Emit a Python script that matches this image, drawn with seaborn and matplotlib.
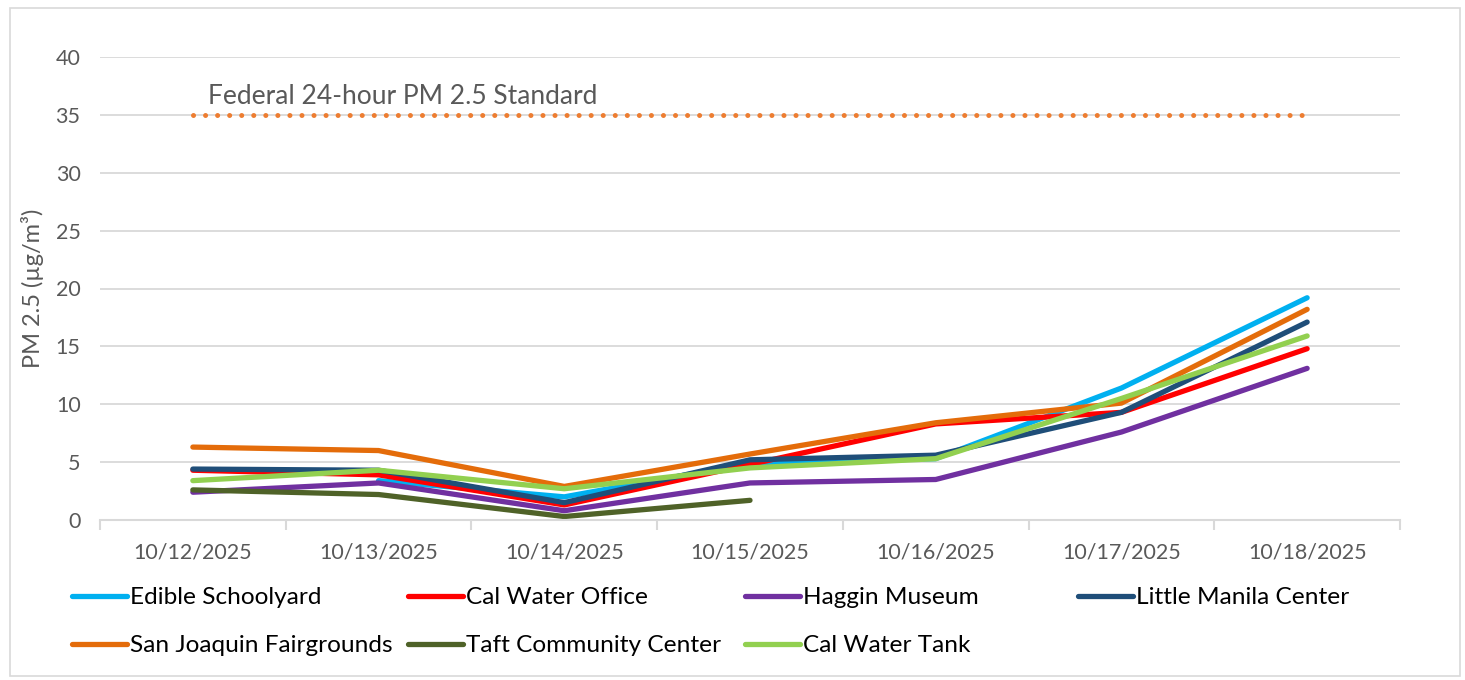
import matplotlib
matplotlib.use('Agg')
import numpy as np
import pandas as pd
import seaborn as sns
from matplotlib import pyplot as plt
from matplotlib.patches import Rectangle

dates = ["10/12/2025", "10/13/2025", "10/14/2025", "10/15/2025",
         "10/16/2025", "10/17/2025", "10/18/2025"]

edible_schoolyard = [np.nan, 3.4, 2.0, 4.9, 5.3, 11.4, 19.2]
cal_water_office = [4.3, 3.9, 1.3, 4.8, 8.3, 9.3, 14.8]
haggin_museum = [2.4, 3.2, 0.8, 3.2, 3.5, 7.6, 13.1]
little_manila = [4.4, 4.3, 1.5, 5.2, 5.6, 9.3, 17.1]
sj_fairgrounds = [6.3, 6.0, 2.9, 5.7, 8.4, 10.1, 18.2]
taft_center = [2.6, 2.2, 0.3, 1.7, np.nan, np.nan, np.nan]
cal_water_tank = [3.4, 4.3, 2.7, 4.5, 5.3, 10.5, 15.9]

standard = [35] * 7

series = {
    "Edible Schoolyard": edible_schoolyard,
    "Cal Water Office": cal_water_office,
    "Haggin Museum": haggin_museum,
    "Little Manila Center": little_manila,
    "San Joaquin Fairgrounds": sj_fairgrounds,
    "Taft Community Center": taft_center,
    "Cal Water Tank": cal_water_tank,
}
colors = ["#00B0F0", "#FF0000", "#7030A0", "#1F4E79",
          "#E46C0A", "#4F6228", "#92D050"]

df = pd.DataFrame(
    [(d, name, v) for name, vals in series.items() for d, v in zip(dates, vals)],
    columns=["Date", "Site", "PM25"],
)

plt.rcParams['font.family'] = ['Lato', 'DejaVu Sans']
grey = "#595959"

fig = plt.figure(figsize=(14.65, 6.8), dpi=100)
ax = fig.add_axes([100 / 1465, 1 - 520 / 680, 1300 / 1465, 463 / 680])

# federal standard line
std_df = pd.DataFrame({"Date": dates, "PM25": standard})
sns.lineplot(data=std_df, x="Date", y="PM25", ax=ax, color="#ED7D31",
             linewidth=3.6, linestyle=(0, (0.01, 2.4)),
             dash_capstyle="round", legend=False)

sns.lineplot(data=df, x="Date", y="PM25", hue="Site",
             hue_order=list(series.keys()), palette=colors,
             linewidth=3.8, ax=ax, solid_capstyle="round", legend=True)

ax.text(0.08, 36.6, "Federal 24-hour PM 2.5 Standard", color=grey,
        fontsize=19, va="center", ha="left")

ax.set_xlim(-0.5, 6.5)
ax.set_ylim(0, 40)
ax.set_yticks(range(0, 41, 5))
ax.grid(axis="y", color="#D9D9D9", linewidth=1.3)
ax.set_axisbelow(True)
for s in ["left", "right", "top"]:
    ax.spines[s].set_visible(False)
ax.spines["bottom"].set_color("#D9D9D9")
ax.spines["bottom"].set_linewidth(1.5)

ax.set_xticks(np.arange(-0.5, 7, 1), minor=True)
ax.tick_params(axis="x", which="major", length=0, pad=16, labelsize=15.5,
               labelcolor=grey)
ax.tick_params(axis="x", which="minor", length=7, width=1.5, color="#D9D9D9")
ax.tick_params(axis="y", length=0, pad=14, labelsize=15.5, labelcolor=grey)

ax.set_xlabel("")
ax.set_ylabel("PM 2.5 (µg/m³)", fontsize=17, color=grey)
ax.yaxis.set_label_coords(-0.043, 0.5)

# legend: four columns placed separately
handles, labels = ax.get_legend_handles_labels()
ax.get_legend().remove()
col_x = [72, 408, 745, 1078]
for k, x0 in enumerate(col_x):
    idx = [i for i in (k, k + 4) if i < len(handles)]
    leg = fig.legend([handles[i] for i in idx], [labels[i] for i in idx],
                     loc="upper left", bbox_to_anchor=(x0 / 1465, 1 - 587 / 680),
                     frameon=False, fontsize=17.6, handlelength=2.25,
                     handletextpad=0.12, labelspacing=1.1, borderpad=0,
                     borderaxespad=0)
    for line in leg.get_lines():
        line.set_linewidth(3.8)
        line.set_solid_capstyle("round")

fig.patches.append(Rectangle((10 / 1465, 4 / 680), 1450 / 1465, 668 / 680,
                             transform=fig.transFigure, fill=False,
                             edgecolor="#D9D9D9", linewidth=1.2))

fig.savefig("out.png", dpi=100)
